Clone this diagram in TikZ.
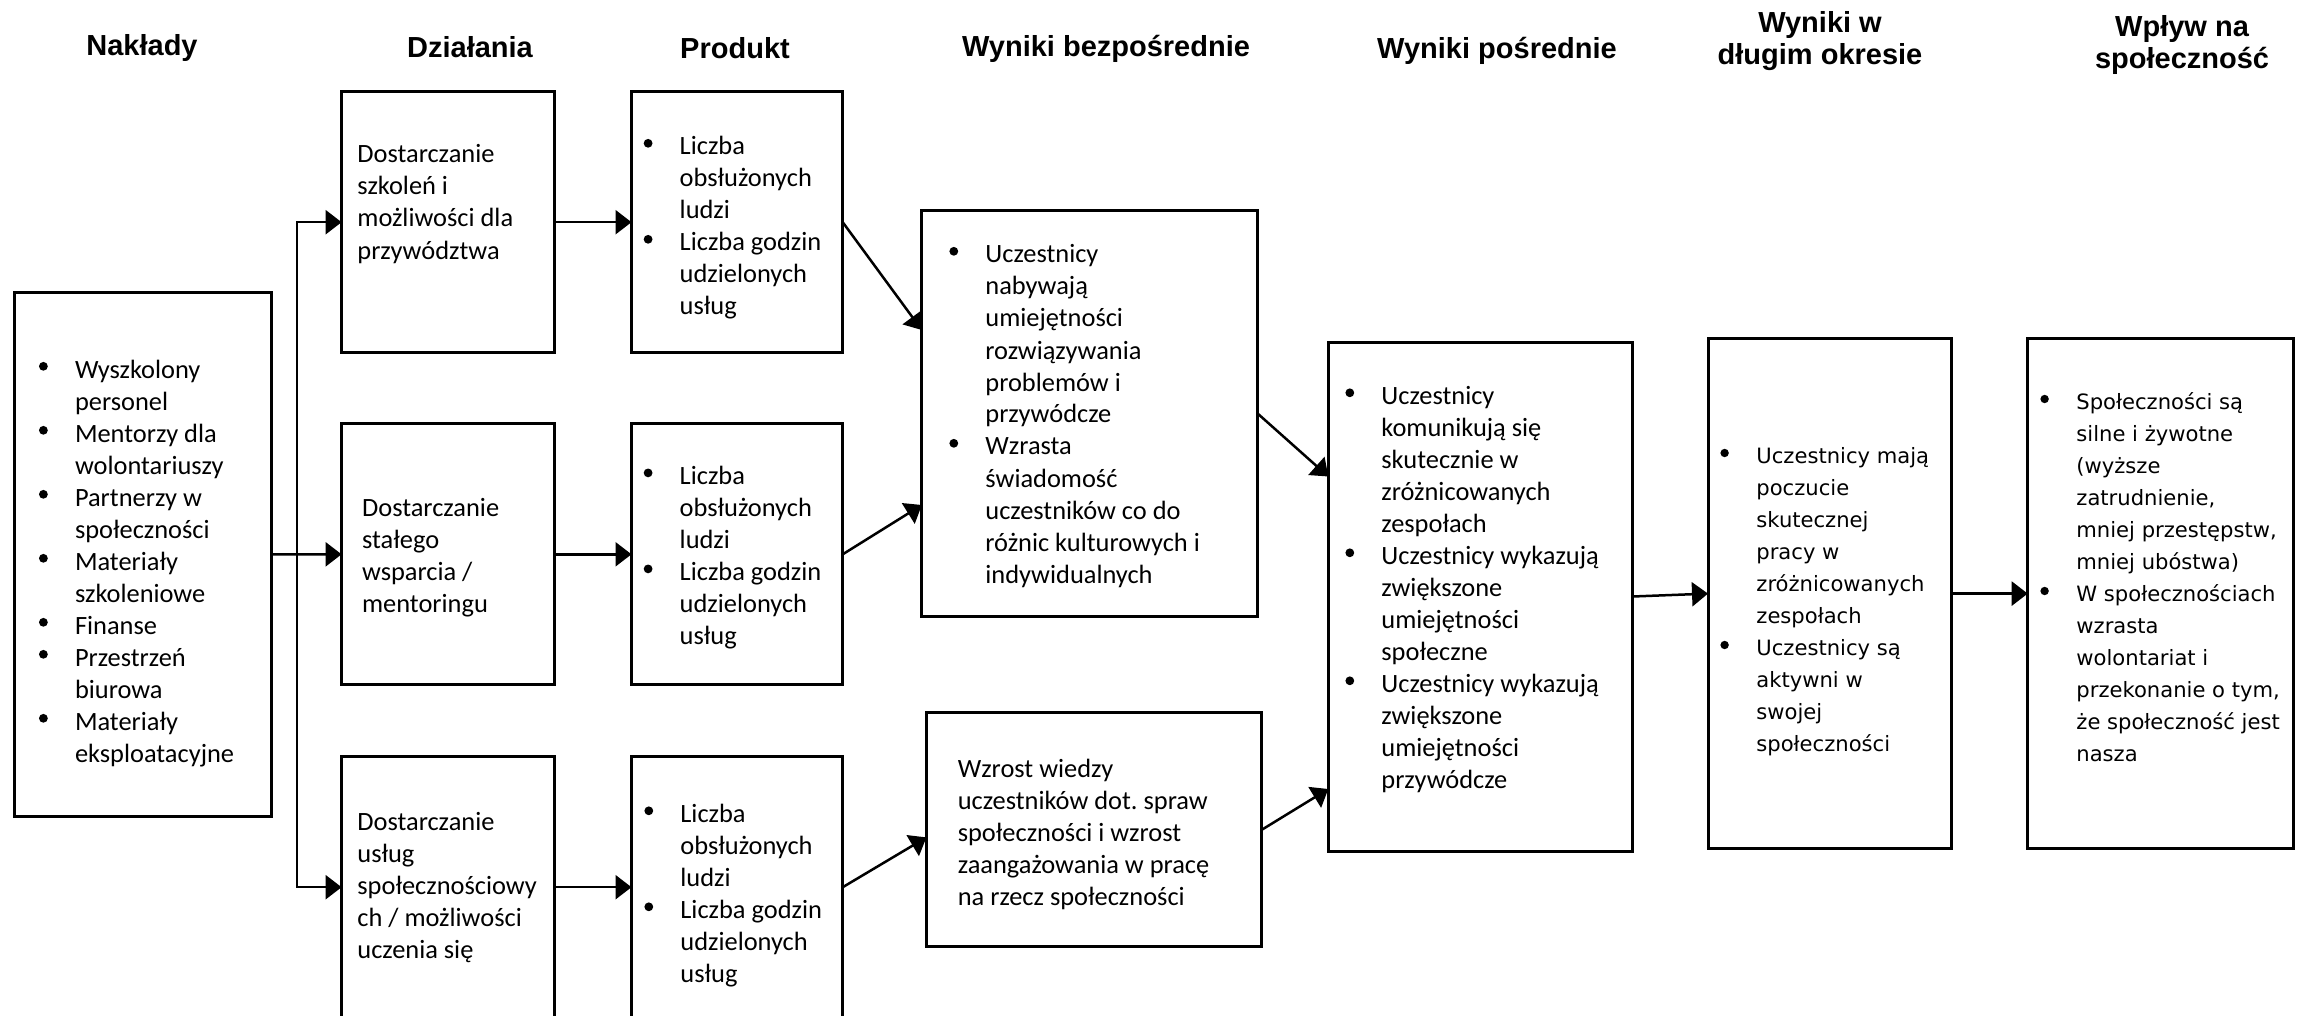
\documentclass[tikz,border=0pt]{standalone}
\usepackage{fontspec}
\setmainfont{Carlito}
\newfontfamily\hfont{Liberation Sans}
\newfontfamily\vfont{DejaVu Sans}
\usetikzlibrary{arrows.meta}
\frenchspacing
\newcommand\bul{\makebox[18pt][l]{\tikz[baseline=0pt]{\path (0pt,0pt); \fill (2.2pt,5.85pt) circle[radius=2.2pt];}}}
\newcommand\ind{\hspace*{18pt}}
\newcommand\vbul{\makebox[18pt][l]{\tikz[baseline=0pt]{\path (0pt,0pt); \fill (2.1pt,5.25pt) circle[radius=2.1pt];}}}
\newcommand\vind{\hspace*{18pt}}
\newcommand\tb[2]{\parbox[t]{#1}{\raggedright\hyphenpenalty=10000 #2}}
\newcommand\hb[1]{\parbox[t]{160pt}{\centering #1}}
\begin{document}
\begin{tikzpicture}[x=0.5pt,y=-0.5pt,
  box/.style={draw, line width=1.5pt, inner sep=0pt, outer sep=0pt},
  arr/.style={line width=1.25pt, -{Triangle[length=8pt,width=12pt]}},
  txt/.style={inner sep=0pt, anchor=base west, font=\fontsize{13.2}{16}\selectfont},
  vtxt/.style={inner sep=0pt, anchor=base west, font=\vfont\fontsize{10.55}{16}\selectfont},
  head/.style={inner sep=0pt, anchor=base, font=\hfont\bfseries\fontsize{14.5}{16}\selectfont}]
\fill[white] (0,0) rectangle (2305,1016);
\useasboundingbox (0,0) rectangle (2305,1016);
\clip (0,0) rectangle (2305,1016);

% headings
\node[head] (h1) at (142,56) {Nakłady};
\node[head] (h2) at (470,57.5) {Działania};
\node[head] (h3) at (735,58.5) {Produkt};
\node[head] (h4) at (1106,57) {Wyniki bezpośrednie};
\node[head] (h5) at (1497,58.5) {Wyniki pośrednie};
\node[head] (h6) at (1820,32.5) {\hb{Wyniki w\\długim okresie}};
\node[head] (h7) at (2182,37) {\hb{Wpływ na\\społeczność}};

% boxes
\node[box, minimum width=128.3pt, minimum height=262.1pt] (in) at (142.7,554.4) {};
\node[box, minimum width=106.2pt, minimum height=130.6pt] (d1) at (447.8,222.2) {};
\node[box, minimum width=106.2pt, minimum height=130.6pt] (d2) at (447.8,554.3) {};
\node[box, minimum width=106.2pt, minimum height=130.6pt] (d3) at (447.8,887.2) {};
\node[box, minimum width=105.6pt, minimum height=130.6pt] (p1) at (737.1,222.2) {};
\node[box, minimum width=105.6pt, minimum height=130.6pt] (p2) at (737.1,554.3) {};
\node[box, minimum width=105.6pt, minimum height=130.6pt] (p3) at (737.1,887.2) {};
\node[box, minimum width=167.95pt, minimum height=202.9pt] (wb1) at (1089.75,413.6) {};
\node[box, minimum width=167.65pt, minimum height=117pt] (wb2) at (1094.05,829.8) {};
\node[box, minimum width=152.15pt, minimum height=254.5pt] (wp) at (1480.45,596.5) {};
\node[box, minimum width=121.5pt, minimum height=254.9pt] (wd) at (1829.5,593.6) {};
\node[box, minimum width=132.65pt, minimum height=254.9pt] (ws) at (2160.35,593.6) {};

% connectors
\coordinate (j) at (296.8,554.3);
\draw[arr] (in.east) -- (d2.west);
\draw[arr] (j) |- (d1.west);
\draw[arr] (j) |- (d3.west);
\draw[arr] (d1.east) -- (p1.west);
\draw[arr] (d2.east) -- (p2.west);
\draw[arr] (d3.east) -- (p3.west);
\draw[arr] (p1.east) -- ([yshift=41.8pt]wb1.west);
\draw[arr] (p2.east) -- ([yshift=-45.7pt]wb1.west);
\draw[arr] (p3.east) -- ([yshift=-3.8pt]wb2.west);
\draw[arr] (wb1.east) -- ([yshift=60pt]wp.west);
\draw[arr] (wb2.east) -- ([yshift=-96.25pt]wp.west);
\draw[arr] (wp.east) -- (wd.west);
\draw[arr] (wd.east) -- (ws.west);

% texts
\node[txt] (tin) at (38.6,378) {\tb{115pt}{\bul Wyszkolony\\\ind personel\\\bul Mentorzy dla\\\ind wolontariuszy\\\bul Partnerzy w\\\ind społeczności\\\bul Materiały\\\ind szkoleniowe\\\bul Finanse\\\bul Przestrzeń\\\ind biurowa\\\bul Materiały\\\ind eksploatacyjne}};
\node[txt] (td1) at (357,163) {\tb{97pt}{Dostarczanie\\szkoleń i\\możliwości dla\\przywództwa}};
\node[txt] (td2) at (361.7,516) {\tb{95pt}{Dostarczanie\\stałego\\wsparcia /\\mentoringu}};
\node[txt] (td3) at (357,830) {\tb{97pt}{Dostarczanie\\usług\\społecznościowy\\ch / możliwości\\uczenia się}};
\node[txt] (tp1) at (643.3,155) {\tb{98pt}{\bul Liczba\\\ind obsłużonych\\\ind ludzi\\\bul Liczba godzin\\\ind udzielonych\\\ind usług}};
\node[txt] (tp2) at (643.3,484.6) {\tb{98pt}{\bul Liczba\\\ind obsłużonych\\\ind ludzi\\\bul Liczba godzin\\\ind udzielonych\\\ind usług}};
\node[txt] (tp3) at (644,822.5) {\tb{98pt}{\bul Liczba\\\ind obsłużonych\\\ind ludzi\\\bul Liczba godzin\\\ind udzielonych\\\ind usług}};
\node[txt] (twb1) at (949,263) {\tb{153pt}{\bul Uczestnicy\\\ind nabywają\\\ind umiejętności\\\ind rozwiązywania\\\ind problemów i\\\ind przywódcze\\\bul Wzrasta\\\ind świadomość\\\ind uczestników co do\\\ind różnic kulturowych i\\\ind indywidualnych}};
\node[txt] (twb2) at (957.4,777.6) {\tb{150pt}{Wzrost wiedzy\\uczestników dot. spraw\\społeczności i wzrost\\zaangażowania w pracę\\na rzecz społeczności}};
\node[txt] (twp) at (1345,404.5) {\tb{143pt}{\bul Uczestnicy\\\ind komunikują się\\\ind skutecznie w\\\ind zróżnicowanych\\\ind zespołach\\\bul Uczestnicy wykazują\\\ind zwiększone\\\ind umiejętności\\\ind społeczne\\\bul Uczestnicy wykazują\\\ind zwiększone\\\ind umiejętności\\\ind przywódcze}};
\node[vtxt] (twd) at (1720,463.5) {\tb{120pt}{\vbul Uczestnicy mają\\\vind poczucie\\\vind skutecznej\\\vind pracy w\\\vind zróżnicowanych\\\vind zespołach\\\vbul Uczestnicy są\\\vind aktywni w\\\vind swojej\\\vind społeczności}};
\node[vtxt] (tws) at (2040,409.5) {\tb{130pt}{\vbul Społeczności są\\\vind silne i żywotne\\\vind (wyższe\\\vind zatrudnienie,\\\vind mniej przestępstw,\\\vind mniej ubóstwa)\\\vbul W społecznościach\\\vind wzrasta\\\vind wolontariat i\\\vind przekonanie o tym,\\\vind że społeczność jest\\\vind nasza}};
\end{tikzpicture}
\end{document}
